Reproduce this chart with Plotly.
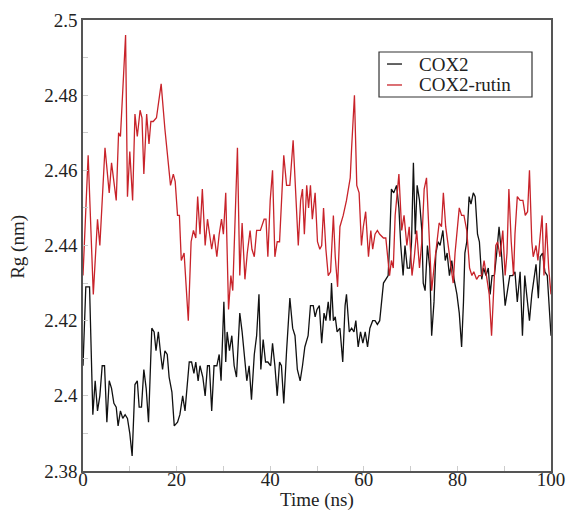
import plotly.graph_objects as go

# Radius of gyration over the 100 ns trajectory
t_cox2 = [0.0, 0.6, 1.4, 2.1, 2.6, 3.1, 3.6, 4.1, 4.6, 5.1, 5.6, 6.1, 6.6, 7.1, 7.5, 8.0, 8.5, 9.0,
          9.5, 10.0, 10.5, 11.1, 11.6, 12.0, 12.5, 13.0, 13.5, 14.0, 14.7, 15.2, 15.6, 16.1, 16.6,
          17.0, 17.5, 18.0, 18.4, 19.0, 19.5, 20.2, 20.7, 21.3, 21.8, 22.7, 23.2, 23.7, 24.1, 24.6,
          25.0, 25.6, 26.1, 26.6, 27.0, 27.5, 28.0, 28.6, 29.1, 29.5, 30.1, 30.5, 30.8, 31.3, 31.8,
          32.3, 32.8, 33.5, 34.0, 34.6, 35.0, 35.5, 36.0, 36.6, 37.1, 37.6, 38.0, 38.5, 39.0, 39.5,
          40.1, 40.5, 41.0, 41.5, 42.0, 42.4, 42.9, 43.5, 44.2, 44.8, 45.3, 45.8, 46.4, 46.9, 47.4,
          48.1, 48.6, 49.2, 49.6, 50.0, 50.5, 51.0, 51.5, 51.9, 52.4, 52.8, 53.1, 53.5, 53.9, 54.3,
          54.9, 55.5, 56.0, 56.3, 56.9, 57.4, 57.9, 58.3, 58.8, 59.3, 59.8, 60.3, 60.8, 61.3, 61.9,
          62.4, 62.9, 63.4, 64.2, 64.7, 65.2, 65.5, 65.9, 66.4, 67.0, 67.5, 67.9, 68.4, 68.8, 69.3,
          69.8, 70.2, 70.6, 71.0, 71.4, 71.9, 72.4, 72.7, 73.1, 73.6, 74.1, 74.5, 75.0, 75.4, 75.9,
          76.3, 76.9, 77.4, 77.8, 78.3, 78.8, 79.3, 79.9, 80.4, 80.9, 81.3, 81.6, 82.0, 82.5, 82.9,
          83.4, 83.8, 84.3, 84.7, 85.2, 85.6, 86.1, 86.6, 87.0, 87.4, 87.9, 88.4, 88.9, 89.4, 89.8,
          90.2, 90.7, 91.2, 91.8, 92.3, 92.8, 93.4, 93.9, 94.4, 94.8, 95.4, 95.9, 96.4, 96.8, 97.3,
          97.7, 98.2, 98.7, 99.2, 99.6, 100.0]
rg_cox2 = [2.408, 2.429, 2.429, 2.395, 2.404, 2.396, 2.400, 2.408, 2.408, 2.393, 2.404, 2.402, 2.398,
           2.397, 2.392, 2.396, 2.394, 2.395, 2.394, 2.390, 2.384, 2.403, 2.404, 2.397, 2.397, 2.407,
           2.402, 2.393, 2.418, 2.417, 2.412, 2.417, 2.411, 2.407, 2.412, 2.411, 2.405, 2.401, 2.392,
           2.393, 2.395, 2.400, 2.396, 2.409, 2.409, 2.406, 2.409, 2.404, 2.408, 2.405, 2.400, 2.408,
           2.408, 2.396, 2.408, 2.408, 2.411, 2.404, 2.425, 2.409, 2.417, 2.412, 2.416, 2.408, 2.405,
           2.422, 2.417, 2.408, 2.404, 2.408, 2.399, 2.411, 2.416, 2.427, 2.407, 2.415, 2.409, 2.409,
           2.408, 2.414, 2.408, 2.400, 2.409, 2.408, 2.398, 2.412, 2.426, 2.418, 2.416, 2.407, 2.404,
           2.408, 2.413, 2.416, 2.424, 2.424, 2.421, 2.423, 2.424, 2.414, 2.422, 2.420, 2.425, 2.420,
           2.430, 2.420, 2.421, 2.417, 2.418, 2.409, 2.424, 2.427, 2.417, 2.418, 2.417, 2.420, 2.413,
           2.417, 2.414, 2.417, 2.413, 2.418, 2.420, 2.420, 2.419, 2.420, 2.430, 2.431, 2.432, 2.440,
           2.455, 2.454, 2.456, 2.450, 2.440, 2.432, 2.440, 2.434, 2.434, 2.441, 2.462, 2.443, 2.456,
           2.452, 2.444, 2.430, 2.428, 2.440, 2.434, 2.416, 2.425, 2.438, 2.441, 2.440, 2.444, 2.436,
           2.438, 2.432, 2.436, 2.431, 2.427, 2.422, 2.413, 2.425, 2.438, 2.441, 2.453, 2.451, 2.454,
           2.453, 2.443, 2.441, 2.431, 2.434, 2.432, 2.434, 2.427, 2.432, 2.432, 2.438, 2.445, 2.438,
           2.432, 2.424, 2.428, 2.432, 2.432, 2.433, 2.425, 2.433, 2.416, 2.432, 2.427, 2.420, 2.427,
           2.432, 2.435, 2.426, 2.437, 2.438, 2.433, 2.432, 2.425, 2.416]

t_rutin = [0.0, 1.1, 2.2, 3.1, 3.6, 4.7, 5.6, 6.1, 7.1, 7.6, 8.0, 9.1, 9.5, 10.0, 10.6, 11.1, 11.6,
           12.2, 12.6, 13.0, 13.6, 14.1, 14.5, 15.0, 15.7, 16.7, 17.5, 18.2, 18.7, 19.3, 19.7, 20.2,
           20.6, 21.0, 21.6, 22.5, 23.1, 23.6, 24.1, 24.5, 25.0, 25.5, 26.1, 26.6, 27.1, 27.5, 28.0,
           28.6, 29.1, 29.6, 30.0, 30.5, 31.1, 31.6, 32.0, 33.0, 33.5, 34.0, 34.6, 35.1, 35.7, 36.1,
           36.6, 37.1, 37.9, 38.7, 39.1, 39.5, 40.0, 40.5, 41.0, 41.5, 42.0, 42.9, 43.5, 44.2, 44.9,
           45.4, 46.0, 46.5, 46.9, 47.3, 47.8, 48.2, 48.6, 49.0, 49.6, 50.1, 50.6, 51.0, 51.4, 51.9,
           52.4, 52.9, 53.5, 53.9, 54.4, 54.9, 55.6, 56.3, 57.1, 57.4, 58.0, 58.5, 59.0, 59.5, 59.9,
           60.4, 61.0, 61.5, 61.9, 62.4, 62.9, 63.4, 64.2, 64.7, 65.2, 65.5, 65.9, 66.3, 66.7, 67.0,
           67.5, 68.1, 68.6, 69.2, 69.7, 70.3, 70.8, 71.3, 71.9, 72.4, 72.9, 73.4, 74.0, 74.5, 75.0,
           75.6, 76.1, 76.6, 77.0, 77.5, 78.0, 78.6, 79.1, 79.5, 79.9, 80.4, 80.9, 81.4, 82.0, 82.6,
           83.1, 83.5, 84.1, 84.6, 85.2, 85.7, 86.2, 86.8, 87.3, 87.7, 88.2, 88.6, 89.1, 89.7, 90.2,
           90.6, 91.0, 91.5, 92.0, 92.3, 92.8, 93.4, 94.0, 94.5, 95.0, 95.4, 95.9, 96.2, 96.8, 97.2,
           97.7, 98.1, 98.5, 99.0, 99.5, 100.0]
rg_rutin = [2.432, 2.464, 2.427, 2.447, 2.440, 2.466, 2.454, 2.462, 2.452, 2.470, 2.469, 2.496, 2.453,
            2.465, 2.452, 2.475, 2.469, 2.476, 2.474, 2.459, 2.475, 2.467, 2.473, 2.473, 2.474, 2.483,
            2.471, 2.461, 2.456, 2.459, 2.457, 2.448, 2.448, 2.436, 2.438, 2.420, 2.441, 2.444, 2.442,
            2.453, 2.443, 2.455, 2.440, 2.447, 2.443, 2.439, 2.443, 2.437, 2.443, 2.447, 2.443, 2.454,
            2.423, 2.432, 2.428, 2.466, 2.432, 2.446, 2.431, 2.438, 2.444, 2.439, 2.437, 2.444, 2.444,
            2.447, 2.447, 2.437, 2.452, 2.460, 2.437, 2.441, 2.441, 2.464, 2.456, 2.456, 2.468, 2.455,
            2.440, 2.452, 2.455, 2.443, 2.456, 2.450, 2.456, 2.447, 2.454, 2.441, 2.439, 2.440, 2.450,
            2.439, 2.432, 2.433, 2.448, 2.437, 2.429, 2.445, 2.448, 2.452, 2.458, 2.466, 2.480, 2.456,
            2.454, 2.440, 2.445, 2.449, 2.437, 2.444, 2.439, 2.443, 2.444, 2.443, 2.442, 2.442, 2.436,
            2.432, 2.436, 2.434, 2.448, 2.452, 2.459, 2.444, 2.448, 2.440, 2.445, 2.432, 2.437, 2.444,
            2.434, 2.441, 2.455, 2.458, 2.440, 2.428, 2.434, 2.441, 2.446, 2.445, 2.454, 2.445, 2.440,
            2.434, 2.430, 2.438, 2.443, 2.450, 2.448, 2.448, 2.444, 2.434, 2.432, 2.433, 2.431, 2.432,
            2.432, 2.436, 2.432, 2.427, 2.416, 2.429, 2.440, 2.441, 2.437, 2.444, 2.432, 2.438, 2.455,
            2.441, 2.432, 2.443, 2.453, 2.452, 2.452, 2.448, 2.449, 2.460, 2.441, 2.437, 2.440, 2.436,
            2.443, 2.448, 2.432, 2.446, 2.434, 2.427]

series_names = ["COX2", "COX2-rutin"]
series_colors = ["#111111", "#c8232a"]

SERIF = "Liberation Serif"
TEXT = "#222222"
FONT = dict(family=SERIF, size=19, color=TEXT)

fig = go.Figure()
for (tx, ry), name, color in zip([(t_cox2, rg_cox2), (t_rutin, rg_rutin)], series_names, series_colors):
    fig.add_trace(go.Scatter(x=tx, y=ry, mode="lines", name=name,
                             line=dict(color=color, width=1.3), showlegend=False))

axis_common = dict(
    showline=True, mirror=True, linecolor="#555555", linewidth=1.5,
    ticks="inside", ticklen=5, tickcolor="#cccccc", tickwidth=1,
    showgrid=False, zeroline=False, automargin=False,
    tickfont=FONT,
)

fig.update_xaxes(
    range=[0, 100], dtick=20, tick0=0, ticklabelstandoff=-10,
    minor=dict(dtick=10, ticks="inside", ticklen=5, tickcolor="#cccccc", showgrid=False),
    **axis_common,
)
fig.update_yaxes(
    range=[2.38, 2.5], dtick=0.02, tick0=2.38,
    minor=dict(dtick=0.01, ticks="inside", ticklen=5, tickcolor="#cccccc", showgrid=False),
    **axis_common,
)

# Axis titles
fig.add_annotation(text="Time (ns)", x=0.5, y=-0.064, xref="paper", yref="paper",
                   xanchor="center", yanchor="middle", showarrow=False, font=FONT)
fig.add_annotation(text="Rg (nm)", x=-0.139, y=0.497, xref="paper", yref="paper",
                   xanchor="center", yanchor="middle", textangle=-90, showarrow=False, font=FONT)

# Boxed legend in the upper right of the plot area
fig.add_shape(type="rect", xref="paper", yref="paper", x0=0.6325, x1=0.9594, y0=0.8293, y1=0.929,
              line=dict(color="#333333", width=1.2), fillcolor="white", layer="above")
for i, (name, color) in enumerate(zip(series_names, series_colors)):
    ly = 0.9024 - i * 0.0465
    fig.add_shape(type="line", xref="paper", yref="paper", x0=0.6496, x1=0.6816, y0=ly, y1=ly,
                  line=dict(color=color, width=1.3), layer="above")
    fig.add_annotation(text=name, x=0.7137, y=ly, xref="paper", yref="paper",
                       xanchor="left", yanchor="middle", showarrow=False, font=FONT)

fig.update_layout(
    width=569, height=513,
    margin=dict(l=83, r=18, t=20, b=42),
    font=dict(family=SERIF, color=TEXT),
    paper_bgcolor="white", plot_bgcolor="white",
    showlegend=False,
)

fig.write_html("out.html")
